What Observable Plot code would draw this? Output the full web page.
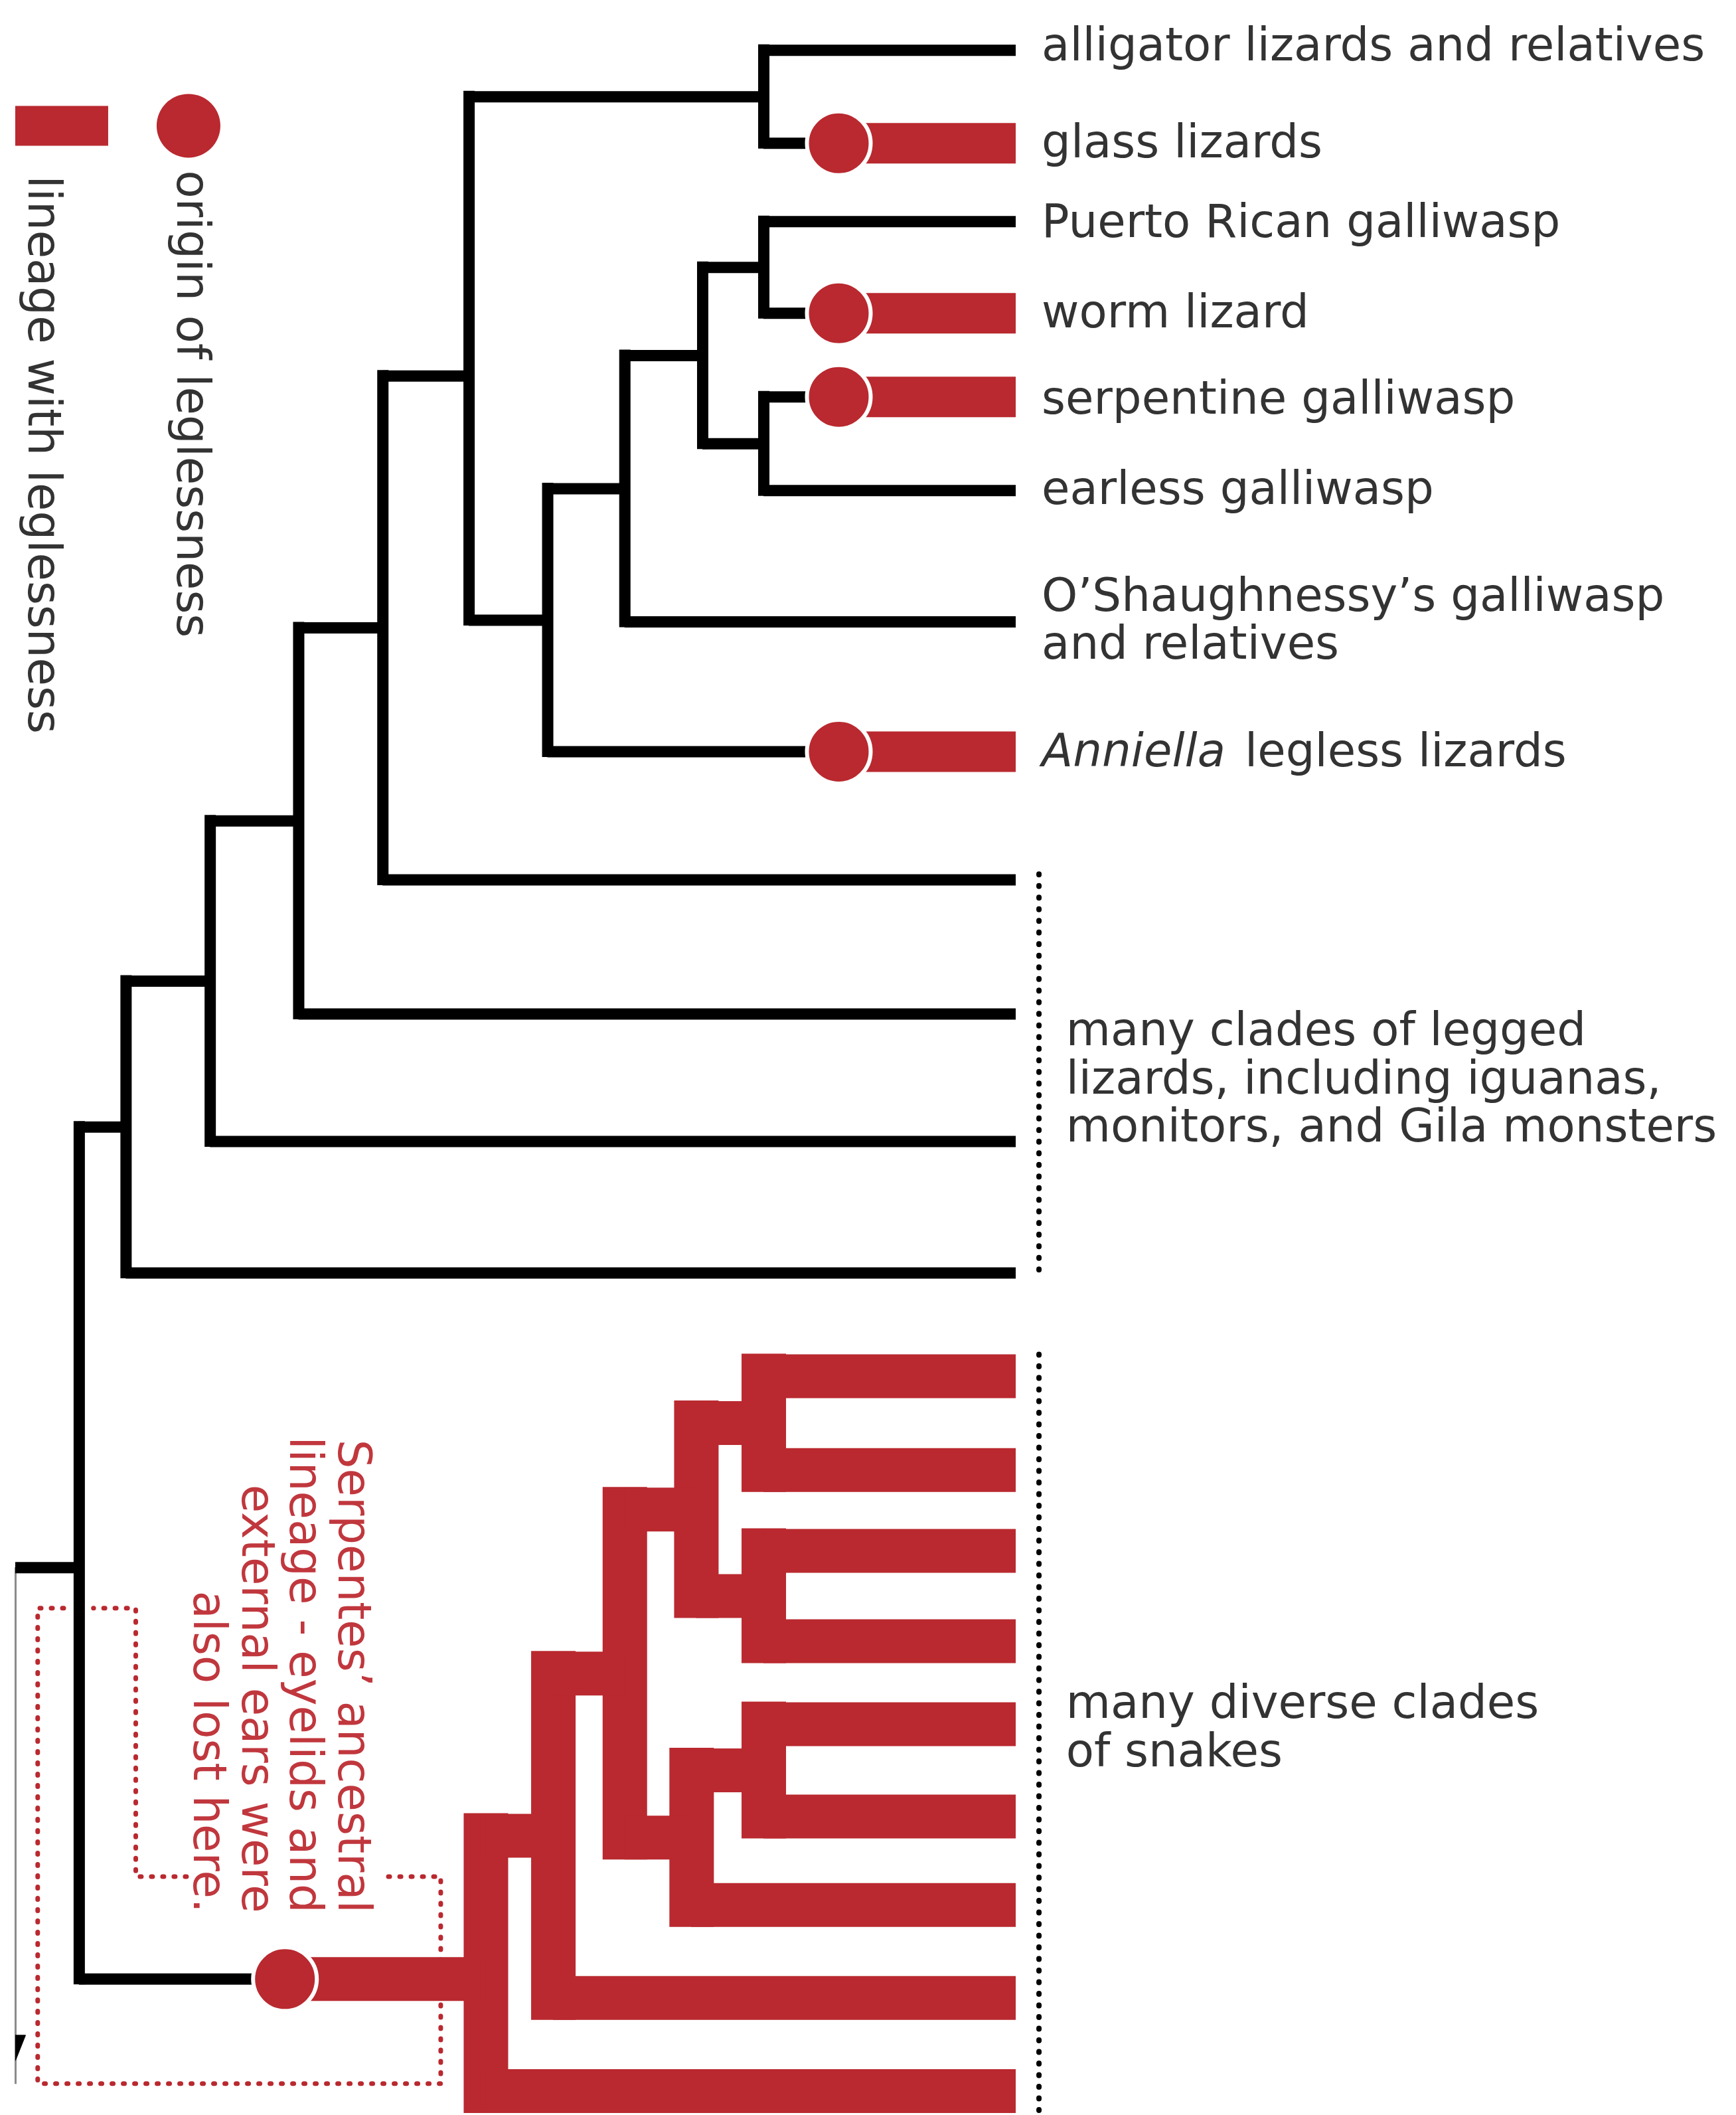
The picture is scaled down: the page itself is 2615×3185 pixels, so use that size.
<!DOCTYPE html>
<html>
<head>
<meta charset="utf-8">
<script src="https://cdn.jsdelivr.net/npm/d3@7"></script>
<script src="https://cdn.jsdelivr.net/npm/@observablehq/plot@0.6"></script>
<style>
  html, body { margin: 0; padding: 0; background: #ffffff; }
  #chart svg { display: block; }
</style>
</head>
<body>
<div id="chart"></div>
<script>
// ---------------- DATA (tree) ----------------
// Tips, top to bottom, with their vertical position (row units)
const tipIds = ["alligator", "glass", "puerto", "worm", "serpentine", "earless", "osh", "anniella",
  "legged1", "legged2", "legged3", "legged4",
  "s1", "s2", "s3", "s4", "s5", "s6", "s7", "s8", "s9"];
const tipY = [37, 106, 164, 232, 294, 363.5, 460.8, 557,
  652, 751.5, 846, 943.5,
  1020, 1089.6, 1149.5, 1216.5, 1278, 1346.5, 1412, 1481, 1550];
const tipLabels = ["alligator lizards and relatives", "glass lizards", "Puerto Rican galliwasp",
  "worm lizard", "serpentine galliwasp", "earless galliwasp",
  "O’Shaughnessy’s galliwasp\nand relatives", "", "", "", "", "",
  "", "", "", "", "", "", "", "", ""];
const tipLabelRow = [33, 105, 164, 231, 295, 362, 459, 557];

// Internal nodes (children before parents) with their branching depth
const nodeIds = ["nAG", "nPW", "nSE", "nPWSE", "nOSH", "nANN", "nANG", "nL1", "nL2", "nL3", "nL4",
  "s12", "s34", "s1234", "s56", "s567", "s1_7", "s1_8", "snakes", "root"];
const nodeDepth = [566, 566, 566, 520.7, 463, 405.8, 347.5, 283.6, 221.2, 155.6, 93.2,
  566, 566, 516, 566, 512.5, 463, 410, 360, 58.5];
const nodeChildren = [["alligator", "glass"], ["puerto", "worm"], ["serpentine", "earless"],
  ["nPW", "nSE"], ["nPWSE", "osh"], ["nOSH", "anniella"], ["nAG", "nANN"],
  ["nANG", "legged1"], ["nL1", "legged2"], ["nL2", "legged3"], ["nL3", "legged4"],
  ["s1", "s2"], ["s3", "s4"], ["s12", "s34"], ["s5", "s6"], ["s56", "s7"],
  ["s1234", "s567"], ["s1_7", "s8"], ["s1_8", "s9"], ["nL4", "snakes"]];
// where a branch is not drawn at the mid-point of its children
const nodeRowOverride = { nANG: 278.5, snakes: 1467, root: 1162 };

const presentDepth = 753;     // tips end here
const rootStubDepth = 11.3;   // start of the root stub

// Origins of leglessness: branch (by child id) and depth of the event
const originBranch = ["glass", "worm", "serpentine", "anniella", "snakes"];
const originDepth = [621.6, 621.6, 621.6, 621.6, 211];

// Clade brackets on the right
const groupLabels = ["many clades of legged\nlizards, including iguanas,\nmonitors, and Gila monsters",
  "many diverse clades\nof snakes"];
const groupRow = [799, 1280];
const groupTop = [648, 1004];
const groupBottom = [945, 1566];

const annotationText = "Serpentes’ ancestral\nlineage - eyelids and\nexternal ears were\nalso lost here.";
const legendLabels = ["origin of leglessness", "lineage with leglessness"];

// ---------------- LAYOUT / STYLE ----------------
const W = 2615, H = 3185;
const RED = "#b9292f", BLACK = "#000000", TEXT = "#333333", ANNOT = "#c0373d";
const FONT = "DejaVu Sans";
const FS = 69;

// ---------------- BUILD TREE GEOMETRY ----------------
const pos = new Map();
tipIds.forEach((id, i) => pos.set(id, { x: presentDepth, y: tipY[i], tip: true }));
nodeIds.forEach((id, i) => {
  const ys = nodeChildren[i].map(c => pos.get(c).y);
  const y = nodeRowOverride[id] ?? (d3.min(ys) + d3.max(ys)) / 2;
  pos.set(id, { x: nodeDepth[i], y, children: nodeChildren[i], tip: false });
});
const originAt = new Map(originBranch.map((b, i) => [b, originDepth[i]]));

// mark red lineages (descendants of an origin), remember which origin
const redOf = new Map();
function markRed(id, origin) {
  redOf.set(id, origin);
  const n = pos.get(id);
  if (n.children) n.children.forEach(c => markRed(c, origin));
}
originBranch.forEach(o => markRed(o, o));

const vBlack = [], vRed = [], hBlack = [], hRed = [], origins = [];
nodeIds.forEach(id => {
  const n = pos.get(id);
  const ys = n.children.map(c => pos.get(c).y);
  const seg = { x: n.x, y1: d3.min(ys), y2: d3.max(ys) };
  if (redOf.has(id)) vRed.push({ ...seg, origin: redOf.get(id) }); else vBlack.push(seg);
  n.children.forEach(c => {
    const cn = pos.get(c);
    if (originAt.has(c)) {
      const ox = originAt.get(c);
      hBlack.push({ y: cn.y, x1: n.x, x2: ox });
      hRed.push({ y: cn.y, x1: ox, x2: cn.x, origin: c });
      origins.push({ x: ox, y: cn.y });
    } else if (redOf.has(c)) {
      hRed.push({ y: cn.y, x1: n.x, x2: cn.x, origin: redOf.get(c) });
    } else {
      hBlack.push({ y: cn.y, x1: n.x, x2: cn.x });
    }
  });
});
const root = pos.get("root");
hBlack.push({ y: root.y, x1: rootStubDepth, x2: root.x });

const hRedSnake = hRed.filter(d => d.origin === "snakes");
const hRedLizard = hRed.filter(d => d.origin !== "snakes");

const labels = tipIds.map((id, i) => ({ label: tipLabels[i], y: tipLabelRow[i] })).filter(d => d.label);
const anniella = { y: tipLabelRow[7] };
const groups = groupLabels.map((l, i) => ({ label: l, y: groupRow[i], y1: groupTop[i], y2: groupBottom[i] }));

// dotted annotation frame (row/depth units)
const frame = [
  { s: 0, x: 47, y: 1192 }, { s: 0, x: 27.7, y: 1192 }, { s: 0, x: 27.7, y: 1544.5 },
  { s: 0, x: 326.5, y: 1544.5 }, { s: 0, x: 326.5, y: 1391 }, { s: 0, x: 286, y: 1391 },
  { s: 1, x: 138, y: 1391 }, { s: 1, x: 100.4, y: 1391 }, { s: 1, x: 100.4, y: 1192 }, { s: 1, x: 69, y: 1192 }
];
const rootTail = [{ x: rootStubDepth, y1: root.y, y2: 1545 }];
const arrow = [{ x: 11.3, y: 1508.6 }, { x: 18.7, y: 1508.6 }, { x: 11.3, y: 1527.3 }, { x: 11.3, y: 1508.6 }];

const legendBar = [{ x1: 11.3, x2: 80.2, y: 93 }];
const legendDot = [{ x: 139.5, y: 93 }];
const legendText = [
  { label: legendLabels[0], x: 142.2, y: 126 },
  { label: legendLabels[1], x: 32, y: 130 }
];

const chart = Plot.plot({
  width: W,
  height: H,
  margin: 0,
  x: { domain: [0, 1287], range: [0, W], axis: null },
  y: { domain: [0, 1568], range: [0, H], axis: null },
  style: { fontFamily: FONT, background: "#ffffff" },
  marks: [
    // annotation frame
    Plot.line(frame, { x: "x", y: "y", z: "s", stroke: RED, strokeWidth: 7, strokeDasharray: "2,15", strokeLinecap: "round", curve: "linear" }),
    // root tail
    Plot.ruleX(rootTail, { x: "x", y1: "y1", y2: "y2", stroke: "#8a8a8a", strokeWidth: 3 }),
    Plot.line(arrow, { x: "x", y: "y", fill: BLACK, stroke: BLACK, strokeWidth: 1 }),
    // black branches
    Plot.ruleX(vBlack, { x: "x", y1: "y1", y2: "y2", stroke: BLACK, strokeWidth: 17, strokeLinecap: "square" }),
    Plot.ruleY(hBlack, { y: "y", x1: "x1", x2: "x2", stroke: BLACK, strokeWidth: 17 }),
    // red (legless) lineages
    Plot.ruleX(vRed, { x: "x", y1: "y1", y2: "y2", stroke: RED, strokeWidth: 67, strokeLinecap: "square" }),
    Plot.ruleY(hRedSnake, { y: "y", x1: "x1", x2: "x2", stroke: RED, strokeWidth: 66 }),
    Plot.ruleY(hRedLizard, { y: "y", x1: "x1", x2: "x2", stroke: RED, strokeWidth: 61 }),
    // origins of leglessness
    Plot.dot(origins, { x: "x", y: "y", r: 48, fill: RED, stroke: "#ffffff", strokeWidth: 6 }),
    // clade brackets
    Plot.ruleX(groups, { x: 770, y1: "y1", y2: "y2", stroke: BLACK, strokeWidth: 8, strokeDasharray: "1,16.5", strokeLinecap: "round" }),
    // tip labels
    Plot.text(labels, { x: 772, y: "y", text: "label", textAnchor: "start", lineAnchor: "middle", lineHeight: 1.05, fontSize: FS, fill: TEXT, fontFamily: FONT }),
    Plot.text([anniella], { x: 772, y: "y", text: () => "Anniella", textAnchor: "start", fontStyle: "italic", fontSize: FS, fill: TEXT, fontFamily: FONT }),
    Plot.text([anniella], { x: 772, y: "y", dx: 306, text: () => "legless lizards", textAnchor: "start", fontSize: FS, fill: TEXT, fontFamily: FONT }),
    Plot.text(groups, { x: 790, y: "y", text: "label", textAnchor: "start", lineAnchor: "middle", lineHeight: 1.05, fontSize: FS, fill: TEXT, fontFamily: FONT }),
    // annotation
    Plot.text([annotationText], { x: 208.5, y: 1418, text: d => d, rotate: 90, textAnchor: "end", lineAnchor: "middle", lineHeight: 1.05, fontSize: 69, fill: ANNOT, fontFamily: FONT }),
    // legend
    Plot.ruleY(legendBar, { y: "y", x1: "x1", x2: "x2", stroke: RED, strokeWidth: 60 }),
    Plot.dot(legendDot, { x: "x", y: "y", r: 48, fill: RED }),
    Plot.text(legendText, { x: "x", y: "y", text: "label", rotate: 90, textAnchor: "start", lineAnchor: "middle", fontSize: FS, fill: TEXT, fontFamily: FONT })
  ]
});
document.getElementById("chart").appendChild(chart);
</script>
</body>
</html>
